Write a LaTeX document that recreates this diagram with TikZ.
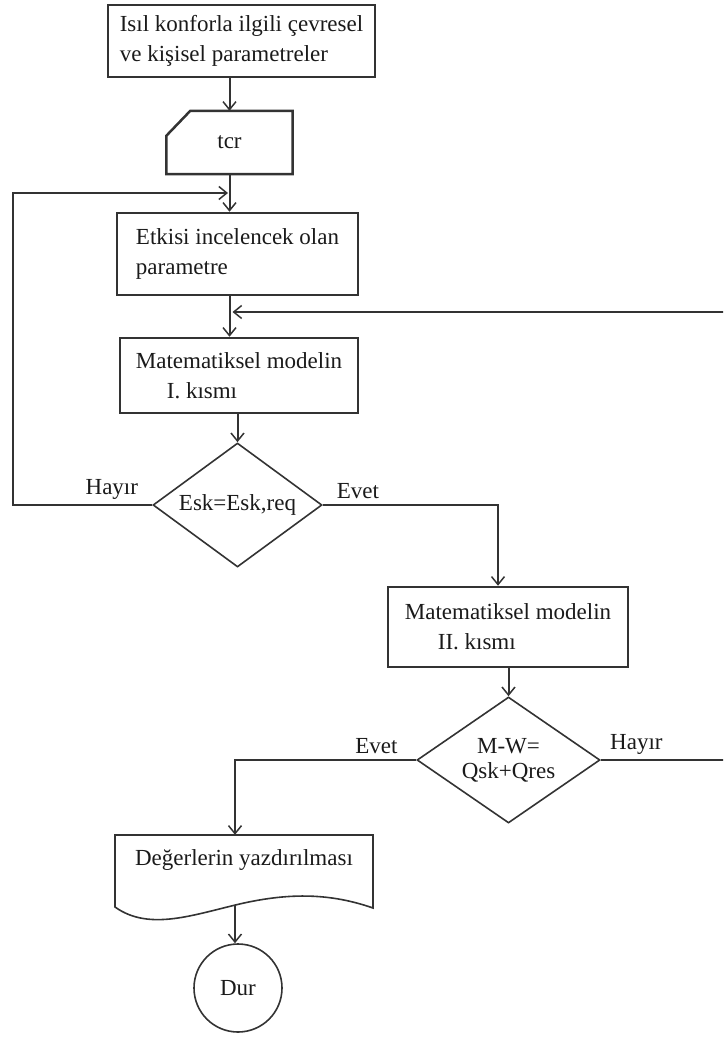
\documentclass[tikz,border=0pt]{standalone}
\usepackage{fontspec}
\setmainfont{Liberation Serif}
\usetikzlibrary{arrows.meta,shapes.geometric}
\definecolor{ln}{HTML}{333333}
\definecolor{tx}{HTML}{1A1A1A}
\begin{document}
\begin{tikzpicture}[x=1pt,y=-1pt,
  font=\fontsize{23}{30}\selectfont, text=tx,
  box/.style={draw=ln, line width=2.5pt, inner sep=0pt, align=left},
  shapeline/.style={draw=ln, line width=1.6pt},
  dia/.style={diamond, draw=ln, line width=1.6pt, inner sep=0pt, shape aspect=1.4, align=center},
  arr/.style={draw=ln, line width=2pt, -{Straight Barb[length=8pt,width=13pt,line width=1.5pt]}},
  lbl/.style={above, inner sep=2pt, yshift=3pt}
]
\path[use as bounding box] (0,0) rectangle (723,1038);
\clip (0,0) rectangle (723,1038);

% nodes
\node[box, minimum width=267, minimum height=72] (b1) at (241.5,41)
  {Isıl konforla ilgili çevresel\\ve kişisel parametreler};
\node[minimum width=126, minimum height=63, inner sep=0pt] (tcr) at (229.5,142.5) {tcr};
\draw[box] ([yshift=-25pt]tcr.north west) -- ([xshift=24pt]tcr.north west) -- (tcr.north east)
  -- (tcr.south east) -- (tcr.south west) -- cycle;
\node[box, minimum width=241, minimum height=82] (b2) at (237.5,254)
  {Etkisi incelencek olan\\parametre};
\node[box, minimum width=238, minimum height=75] (b3) at (239,375.5)
  {Matematiksel modelin\\\hspace*{31pt}I. kısmı};
\node[dia, minimum width=169, minimum height=124] (d1) at (237.5,505) {Esk=Esk,req};
\node[box, minimum width=240, minimum height=80] (b4) at (508,627)
  {Matematiksel modelin\\\hspace*{33pt}II. kısmı};
\node[dia, minimum width=183, minimum height=126, font=\fontsize{23}{25}\selectfont] (d2) at (508.5,760)
  {M-W=\\Qsk+Qres};
\node[minimum width=258, minimum height=50, inner sep=0pt] (doc) at (244,860) {Değerlerin yazdırılması};
\draw[shapeline] (115,907) -- (115,835) -- (373,835) -- (373,908)
  .. controls (330,893) and (290,893) .. (244,903)
  .. controls (195,914) and (150,932) .. (115,907) -- cycle;
\coordinate (docb) at (235,905);
\node[circle, shapeline, minimum size=88, inner sep=0pt] (dur) at (238,988) {Dur};

% connectors
\coordinate (L) at (13,193);
\coordinate (R) at (728,312);
\coordinate (b4in) at ([xshift=-10pt]b4.north);
\coordinate (docin) at ([xshift=-9pt]doc.north);
\draw[arr] (b1.south -| tcr.north) -- (tcr.north);
\draw[arr] (tcr.south) -- (tcr.south |- b2.north);
\draw[arr] (b2.south -| tcr.south) -- (b3.north -| tcr.south);
\draw[arr] (b3.south -| d1.north) -- (d1.north);
\draw[arr, shorten >=1.5pt] (d1.west) -- node[lbl, pos=0.29] {Hayır} (d1.west -| L) -- (L) -- (L -| tcr.south);
\draw[arr] (d1.east) -- node[lbl, pos=0.2] {Evet} (d1.east -| b4in) -- (b4in);
\draw[arr] (b4.south -| d2.north) -- (d2.north);
\draw[arr] (d2.west) -- node[lbl, pos=0.22] {Evet} (d2.west -| docin) -- (docin);
\draw[arr, shorten >=3pt] (d2.east) -- node[lbl, pos=0.28] {Hayır} (d2.east -| R) -- (R) -- (R -| tcr.south);
\draw[arr] (docb) -- (docb |- dur.north);
\end{tikzpicture}
\end{document}
